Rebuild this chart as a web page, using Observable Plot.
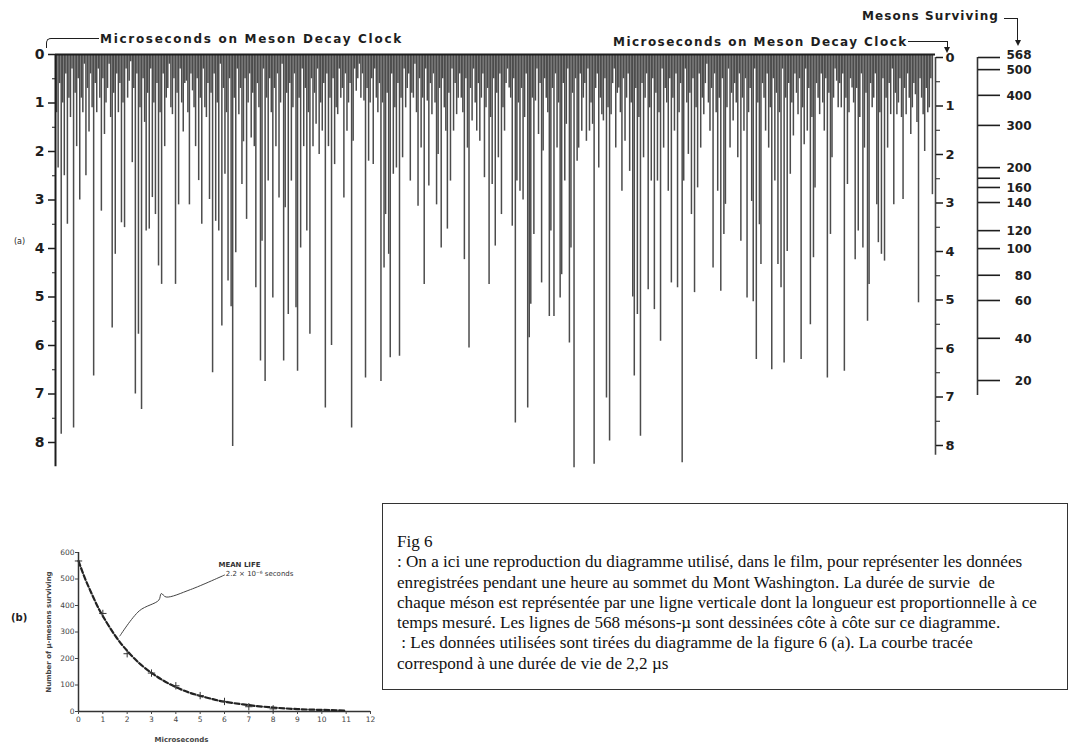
<!DOCTYPE html>
<html><head><meta charset="utf-8">
<script src="https://cdn.jsdelivr.net/npm/d3@7"></script>
<script src="https://cdn.jsdelivr.net/npm/@observablehq/plot@0.6"></script>
<style>
body{margin:0;background:#fff;}
#page{position:relative;width:1070px;height:747px;overflow:hidden;background:#fff;font-family:"DejaVu Sans",sans-serif;}
.lbl{position:absolute;font-weight:bold;color:#1e1e1e;white-space:nowrap;}
.brk{position:absolute;border-color:#1e1e1e;border-style:solid;border-width:0;}
.arr{position:absolute;width:0;height:0;border-left:3px solid transparent;border-right:3px solid transparent;border-top:6px solid #1e1e1e;}
#box{position:absolute;left:382px;top:503px;width:684px;height:185px;border:1.5px solid #333;font-family:"Liberation Serif","Times New Roman",serif;font-size:17.1px;line-height:20.3px;color:#111;}
#box div{padding-left:14px;white-space:nowrap;}
</style></head>
<body><div id="page">
<div id="a" style="position:absolute;left:0;top:0"></div>
<div id="b" style="position:absolute;left:0;top:530px"></div>

<div class="brk" style="left:46px;top:38px;width:52px;height:9px;border-top-width:1.5px;border-left-width:1.5px;border-top-left-radius:5px;"></div>
<div class="lbl" style="left:100px;top:32px;font-size:12px;letter-spacing:1.7px;">Microseconds on Meson Decay Clock</div>
<div class="lbl" style="left:613px;top:35px;font-size:12px;letter-spacing:1.45px;">Microseconds on Meson Decay Clock</div>
<div class="brk" style="left:908px;top:41px;width:39px;height:7px;border-top-width:1.5px;border-right-width:1.5px;"></div>
<div class="arr" style="left:944px;top:47px;"></div>
<div class="lbl" style="left:862px;top:9px;font-size:12px;letter-spacing:1.1px;">Mesons Surviving</div>
<div class="brk" style="left:1004px;top:18px;width:13px;height:23px;border-top-width:1.5px;border-right-width:1.5px;"></div>
<div class="arr" style="left:1015px;top:40px;"></div>
<div class="lbl" style="left:14px;top:237px;font-size:8px;font-weight:normal;">(a)</div>
<div class="lbl" style="left:11px;top:612px;font-size:10px;">(b)</div>

<div id="box">
<div style="height:28px"></div>
<div>Fig 6</div>
<div>: On a ici une reproduction du diagramme utilisé, dans le film, pour représenter les données</div>
<div>enregistrées pendant une heure au sommet du Mont Washington. La durée de survie&nbsp; de</div>
<div>chaque méson est représentée par une ligne verticale dont la longueur est proportionnelle à ce</div>
<div>temps mesuré. Les lignes de 568 mésons-µ sont dessinées côte à côte sur ce diagramme.</div>
<div>&nbsp;: Les données utilisées sont tirées du diagramme de la figure 6 (a). La courbe tracée</div>
<div>correspond à une durée de vie de 2,2 µs</div>
</div>
</div>
<script>
// Decay time (microseconds) of each of the 568 mesons, left to right
const decayTimes = [
1.2,2.34,0.6,7.83,1.0,2.5,0.4,3.5,0.9,1.3,
0.3,7.7,0.8,1.9,0.5,3.0,0.9,1.2,0.2,2.5,
0.7,1.6,0.4,1.1,6.63,0.6,1.2,0.3,0.9,3.23,
0.5,1.65,1.0,0.7,0.2,1.3,5.64,0.8,4.12,0.4,
1.2,0.6,3.47,1.0,3.57,0.3,0.9,0.55,0.15,2.23,
0.7,7.0,0.4,5.77,1.1,7.32,0.5,1.4,3.64,0.8,
3.6,0.3,2.95,1.0,3.3,0.6,4.36,1.2,4.74,0.4,
1.9,0.9,0.7,0.2,1.1,1.24,0.5,4.74,0.8,3.1,
0.3,1.0,1.6,0.6,0.55,1.2,3.1,0.4,0.75,1.1,
1.9,0.5,2.6,0.9,3.5,0.3,1.1,1.3,0.6,2.99,
0.8,6.56,0.4,3.44,1.0,3.64,0.2,5.6,0.7,2.47,
1.2,4.67,0.5,5.2,8.08,0.9,4.09,0.3,1.24,0.7,
2.68,1.8,0.5,3.4,1.0,0.4,1.72,0.8,1.9,4.81,
0.6,1.1,6.32,3.85,0.3,6.74,0.9,2.61,0.5,1.2,
5.02,0.7,1.9,0.4,2.96,1.0,0.2,6.32,3.16,0.8,
5.36,0.6,2.61,1.1,0.4,5.22,6.53,0.9,3.99,0.3,
1.9,0.7,3.64,1.2,5.77,0.5,1.9,0.8,1.44,0.3,
2.06,1.0,1.58,0.6,7.29,0.4,1.9,0.9,6.0,0.5,
2.27,1.1,1.24,0.3,0.9,0.7,2.96,0.4,1.58,1.0,
0.6,7.7,1.79,0.3,0.76,0.5,0.2,0.9,0.4,0.96,
6.67,0.7,2.2,1.0,0.5,2.27,0.3,0.9,1.2,0.6,
6.74,1.0,4.4,3.3,0.8,4.12,6.25,0.4,2.47,1.1,
2.34,0.6,6.22,0.9,2.13,0.3,1.1,0.7,0.4,2.61,
0.8,0.9,0.2,1.2,3.13,0.5,1.93,0.9,4.74,0.3,
0.96,2.71,0.6,1.24,0.4,1.0,3.1,2.06,0.7,3.99,
0.5,1.1,1.58,3.6,0.8,2.61,0.3,1.58,0.6,1.24,
0.9,0.4,0.9,1.2,4.23,0.5,1.93,6.05,0.7,1.37,
0.3,1.0,1.58,0.6,1.79,0.9,0.4,2.54,1.1,0.7,
4.74,1.3,2.68,0.5,3.95,0.8,2.13,0.4,3.3,1.1,
1.58,0.6,0.3,0.69,0.9,3.54,0.5,7.6,2.61,1.0,
2.82,0.7,3.0,1.3,0.4,7.29,5.84,5.15,0.9,3.71,
0.96,0.3,1.65,0.6,4.71,1.99,0.5,0.9,1.2,5.4,
3.64,0.7,5.4,0.4,1.93,1.0,5.02,4.54,0.6,2.61,
1.44,0.3,5.95,3.99,0.8,8.52,0.5,2.2,1.93,0.4,
1.58,0.9,0.6,1.79,0.3,1.58,1.0,1.44,8.45,0.7,
0.4,2.34,0.9,1.24,1.37,0.5,7.08,1.1,7.97,1.24,
0.6,0.3,1.93,0.8,0.69,1.2,2.82,0.5,1.79,0.9,
0.4,2.41,1.0,5.0,6.63,0.7,5.36,1.3,7.87,0.6,
2.13,0.9,0.4,4.85,1.1,2.61,0.5,5.26,0.8,2.61,
1.2,5.91,0.3,1.93,0.7,1.0,2.82,0.5,4.71,0.9,
1.58,0.4,4.81,1.2,0.6,8.42,2.61,0.3,1.0,2.06,
0.8,3.3,0.5,4.91,1.1,2.75,0.4,1.93,0.9,1.24,
0.6,0.2,1.0,1.58,0.7,4.4,0.4,1.2,2.82,0.9,
4.88,0.5,3.71,3.09,1.1,0.3,1.93,0.8,1.37,0.6,
1.0,2.13,0.4,3.85,0.9,1.58,0.5,5.02,1.2,0.7,
3.03,5.1,0.3,6.29,1.0,3.51,4.33,0.6,0.9,1.58,
0.4,1.93,1.1,6.5,0.5,2.61,0.8,4.33,1.2,4.81,
0.3,6.36,0.9,4.06,0.6,2.47,1.0,1.68,0.4,0.8,
1.24,0.5,6.29,1.1,1.86,0.3,1.58,0.7,5.57,1.3,
4.19,2.75,0.6,0.9,1.24,0.4,1.0,1.58,0.5,6.67,
0.8,3.71,2.13,0.9,0.3,0.55,1.1,0.6,1.1,0.4,
6.53,0.9,2.68,1.2,0.5,0.69,1.0,4.23,0.7,3.64,
1.3,0.4,3.99,1.93,0.8,5.5,4.74,0.6,1.1,0.9,
0.4,3.1,3.88,1.2,4.12,0.5,4.26,0.9,1.93,0.6,
1.24,0.3,3.1,0.8,1.24,1.0,0.5,1.3,2.99,0.7,
1.24,0.4,0.9,1.65,1.1,0.6,0.83,1.4,5.12,0.5,
0.9,1.24,2.0,0.7,1.2,1.1,0.5,2.89
];
const clockTicks = [0,1,2,3,4,5,6,7,8];
const clockHalfTicks = [0.5,1.5,2.5,3.5,4.5,5.5,6.5,7.5];
// "Mesons Surviving" scale: position on clock (µs) and label
const survivorTimes  = [0,0.25,0.78,1.40,2.27,2.49,2.68,2.99,3.57,3.94,4.49,5.01,5.79,6.66];
const survivorLabels = ["568","500","400","300","200","","160","140","120","100","80","60","40","20"];
const survivorAxisEnd = 6.97;

// panel (b)
const curveT = [0,0.25,0.5,0.75,1,1.5,2,2.5,3,3.5,4,4.5,5,5.5,6,7,8,9,10,11];
const curveN = [568,506,453,403,360,287,229,182,146,116,92,73,59,47,37,24,15,9,6,3.5];
const measT = [0,1,2,3,4,5,6,7,8];
const measN = [568,370,218,145,97,60,38,18,10];
const bXTicks = [0,1,2,3,4,5,6,7,8,9,10,11,12];
const bYTicks = [0,100,200,300,400,500,600];

const lines = decayTimes.map((v, i) => ({i, v}));
const surv = survivorTimes.map((t, i) => ({t, label: survivorLabels[i]}));
const ink = "#1e1e1e";

const a = Plot.plot({
  width: 1070, height: 470,
  marginLeft: 55, marginRight: 135, marginTop: 54, marginBottom: 3.75,
  x: {type: "linear", domain: [-0.7, 569], axis: null, label: null},
  y: {domain: [0, 8.5], reverse: true, axis: null, label: null},
  style: {fontFamily: "DejaVu Sans, sans-serif", background: "transparent", color: ink},
  marks: [
    Plot.ruleX(lines, {x: "i", y1: 0, y2: "v", stroke: "#4c4c4c", strokeWidth: 1.5}),
    Plot.ruleY([0], {x1: -0.7, x2: 569, stroke: ink, strokeWidth: 2}),
    Plot.ruleX([-0.7], {y1: 0, y2: 8.5, stroke: ink, strokeWidth: 2}),
    Plot.ruleX([569], {y1: 0, y2: 8.2, stroke: "#444", strokeWidth: 1.6, dy: 3}),
    Plot.axisY(clockTicks, {anchor: "left", label: null, tickSize: 7, tickPadding: 4, fontSize: 14, fontWeight: "bold", stroke: ink, strokeWidth: 1.5}),
    Plot.axisY(clockHalfTicks, {anchor: "left", label: null, tickSize: 3, tickFormat: () => "", stroke: ink}),
    Plot.axisY(clockTicks, {anchor: "right", label: null, tickSize: 7, tickPadding: 3, fontSize: 13, fontWeight: "bold", stroke: ink, strokeWidth: 1.5, dy: 3}),
    Plot.axisY(clockHalfTicks, {anchor: "right", label: null, tickSize: 4, tickFormat: () => "", stroke: ink, dy: 3}),
    Plot.ruleX([569], {y1: 0, y2: survivorAxisEnd, stroke: "#333", strokeWidth: 1.6, dx: 42, dy: 3}),
    Plot.axisY(survivorTimes, {anchor: "right", label: null, tickSize: 22, tickFormat: () => "", stroke: ink, strokeWidth: 1.6, dx: 42, dy: 3}),
    Plot.text(surv.slice(0, 1), {y: "t", text: "label", frameAnchor: "right", textAnchor: "end", dx: 96, dy: 0.5, fontSize: 12, fontWeight: "bold", fill: ink}),
    Plot.text(surv.slice(1), {y: "t", text: "label", frameAnchor: "right", textAnchor: "end", dx: 96, dy: 3.5, fontSize: 12, fontWeight: "bold", fill: ink})
  ]
});
document.getElementById("a").appendChild(a);

const curve = curveT.map((t, i) => ({t, n: curveN[i]}));
const meas = measT.map((t, i) => ({t, n: measN[i]}));
const b = Plot.plot({
  width: 390, height: 217,
  marginLeft: 78, marginRight: 20, marginTop: 22, marginBottom: 36,
  x: {domain: [0, 12], axis: null, label: null},
  y: {domain: [0, 600], axis: null, label: null},
  style: {fontFamily: "DejaVu Sans, sans-serif", background: "transparent", color: "#333"},
  marks: [
    Plot.ruleY([0], {stroke: "#333", strokeWidth: 1.5}),
    Plot.ruleX([0], {y1: 0, y2: 600, stroke: "#333", strokeWidth: 1.5}),
    Plot.axisX(bXTicks, {anchor: "bottom", label: null, tickSize: 3, tickPadding: 2, fontSize: 7.5, stroke: "#444", fill: "#444"}),
    Plot.axisY(bYTicks, {anchor: "left", label: null, tickSize: 3, tickPadding: 1, fontSize: 7.5, stroke: "#444", fill: "#444"}),
    Plot.line(curve, {x: "t", y: "n", curve: "natural", stroke: "#222", strokeWidth: 2.2, strokeDasharray: "5,2.5"}),
    Plot.dot(meas, {x: "t", y: "n", symbol: "plus", r: 2.5, stroke: "#333", strokeWidth: 1}),
    Plot.text(["Microseconds"], {frameAnchor: "bottom", dy: 30, dx: -43, fontSize: 7, fontWeight: "bold", fill: "#444"}),
    Plot.text(["Number of µ-mesons surviving"], {frameAnchor: "left", textAnchor: "middle", dx: -30, rotate: -90, fontSize: 7, fontWeight: "bold", fill: "#444"}),
    Plot.text(["MEAN LIFE"], {x: 5.75, y: 555, textAnchor: "start", fontSize: 7, fontWeight: "bold", fill: "#333"}),
    Plot.text(["2.2 × 10⁻⁶ seconds"], {x: 6.05, y: 520, textAnchor: "start", fontSize: 7, fill: "#333"}),
    Plot.line([[6.0, 515], [4.6, 460], [3.6, 432], [3.4, 445], [3.3, 420], [2.5, 380], [1.7, 285]], {stroke: "#444", strokeWidth: 1, curve: "catmull-rom"})
  ]
});
document.getElementById("b").appendChild(b);
</script>
</body></html>
